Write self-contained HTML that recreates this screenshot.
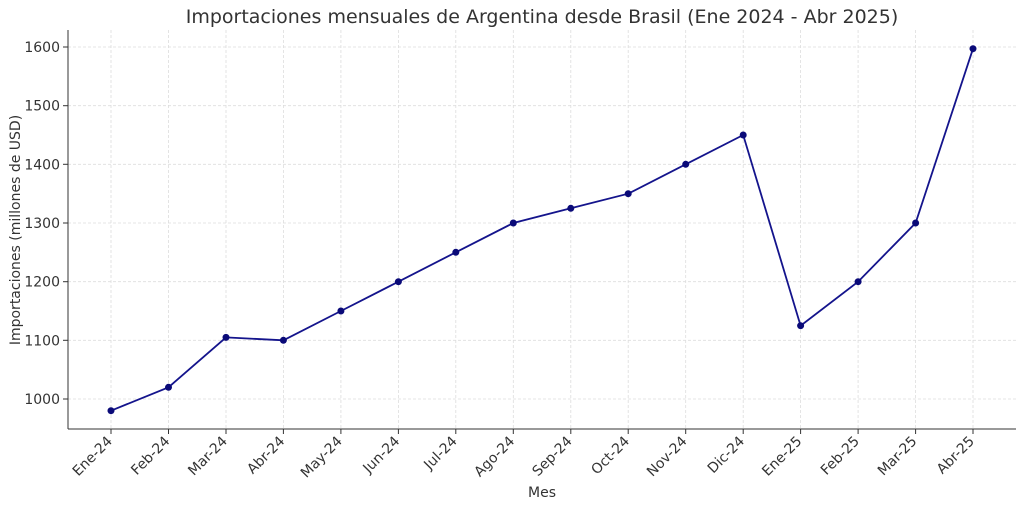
<!DOCTYPE html>
<html><head><meta charset="utf-8"><style>body{margin:0;background:#fff}svg{display:block}text{font-family:"DejaVu Sans","Liberation Sans",sans-serif;fill:#333}</style></head><body>
<svg width="1024" height="508" viewBox="0 0 1024 508" xmlns="http://www.w3.org/2000/svg">
<text x="542" y="23" font-size="19" text-anchor="middle">Importaciones mensuales de Argentina desde Brasil (Ene 2024 - Abr 2025)</text>
<g stroke="#ddd" stroke-width="0.8" stroke-dasharray="3,2">
<line x1="68" x2="1016" y1="47" y2="47"/><line x1="68" x2="1016" y1="105.7" y2="105.7"/><line x1="68" x2="1016" y1="164.3" y2="164.3"/><line x1="68" x2="1016" y1="223" y2="223"/><line x1="68" x2="1016" y1="281.7" y2="281.7"/><line x1="68" x2="1016" y1="340.3" y2="340.3"/><line x1="68" x2="1016" y1="399" y2="399"/>
<line y1="30" y2="429" x1="111" x2="111"/><line y1="30" y2="429" x1="168.5" x2="168.5"/><line y1="30" y2="429" x1="226" x2="226"/><line y1="30" y2="429" x1="283.4" x2="283.4"/><line y1="30" y2="429" x1="340.9" x2="340.9"/><line y1="30" y2="429" x1="398.4" x2="398.4"/><line y1="30" y2="429" x1="455.8" x2="455.8"/><line y1="30" y2="429" x1="513.3" x2="513.3"/><line y1="30" y2="429" x1="570.8" x2="570.8"/><line y1="30" y2="429" x1="628.2" x2="628.2"/><line y1="30" y2="429" x1="685.7" x2="685.7"/><line y1="30" y2="429" x1="743.2" x2="743.2"/><line y1="30" y2="429" x1="800.6" x2="800.6"/><line y1="30" y2="429" x1="858.1" x2="858.1"/><line y1="30" y2="429" x1="915.6" x2="915.6"/><line y1="30" y2="429" x1="973" x2="973"/>
</g>
<g stroke="#333" stroke-width="1"><line x1="68" y1="30" x2="68" y2="429"/><line x1="68" y1="429" x2="1016" y2="429"/>
<line x1="63" x2="68" y1="47" y2="47"/><line x1="63" x2="68" y1="105.7" y2="105.7"/><line x1="63" x2="68" y1="164.3" y2="164.3"/><line x1="63" x2="68" y1="223" y2="223"/><line x1="63" x2="68" y1="281.7" y2="281.7"/><line x1="63" x2="68" y1="340.3" y2="340.3"/><line x1="63" x2="68" y1="399" y2="399"/>
<line y1="429" y2="434" x1="111" x2="111"/><line y1="429" y2="434" x1="168.5" x2="168.5"/><line y1="429" y2="434" x1="226" x2="226"/><line y1="429" y2="434" x1="283.4" x2="283.4"/><line y1="429" y2="434" x1="340.9" x2="340.9"/><line y1="429" y2="434" x1="398.4" x2="398.4"/><line y1="429" y2="434" x1="455.8" x2="455.8"/><line y1="429" y2="434" x1="513.3" x2="513.3"/><line y1="429" y2="434" x1="570.8" x2="570.8"/><line y1="429" y2="434" x1="628.2" x2="628.2"/><line y1="429" y2="434" x1="685.7" x2="685.7"/><line y1="429" y2="434" x1="743.2" x2="743.2"/><line y1="429" y2="434" x1="800.6" x2="800.6"/><line y1="429" y2="434" x1="858.1" x2="858.1"/><line y1="429" y2="434" x1="915.6" x2="915.6"/><line y1="429" y2="434" x1="973" x2="973"/></g>
<g font-size="14" text-anchor="end"><text x="60" y="52">1600</text><text x="60" y="110.7">1500</text><text x="60" y="169.3">1400</text><text x="60" y="228">1300</text><text x="60" y="286.7">1200</text><text x="60" y="345.3">1100</text><text x="60" y="404">1000</text></g>
<g font-size="14" text-anchor="end">
<text transform="translate(113,442) rotate(-45)">Ene-24</text><text transform="translate(170.5,442) rotate(-45)">Feb-24</text><text transform="translate(228,442) rotate(-45)">Mar-24</text><text transform="translate(285.4,442) rotate(-45)">Abr-24</text><text transform="translate(342.9,442) rotate(-45)">May-24</text><text transform="translate(400.4,442) rotate(-45)">Jun-24</text><text transform="translate(457.8,442) rotate(-45)">Jul-24</text><text transform="translate(515.3,442) rotate(-45)">Ago-24</text><text transform="translate(572.8,442) rotate(-45)">Sep-24</text><text transform="translate(630.2,442) rotate(-45)">Oct-24</text><text transform="translate(687.7,442) rotate(-45)">Nov-24</text><text transform="translate(745.2,442) rotate(-45)">Dic-24</text><text transform="translate(802.6,442) rotate(-45)">Ene-25</text><text transform="translate(860.1,442) rotate(-45)">Feb-25</text><text transform="translate(917.6,442) rotate(-45)">Mar-25</text><text transform="translate(975,442) rotate(-45)">Abr-25</text></g>
<text x="542" y="497" font-size="14" text-anchor="middle">Mes</text>
<text transform="translate(20,230) rotate(-90)" font-size="14" text-anchor="middle">Importaciones (millones de USD)</text>
<polyline fill="none" stroke="#14148c" stroke-width="1.8" points="111,410.7 168.5,387.3 226,337.4 283.4,340.3 340.9,311 398.4,281.7 455.8,252.3 513.3,223 570.8,208.3 628.2,193.7 685.7,164.3 743.2,135 800.6,325.7 858.1,281.7 915.6,223 973,48.7"/>
<g fill="#0a0a78"><circle cx="111" cy="410.7" r="3.5"/><circle cx="168.5" cy="387.3" r="3.5"/><circle cx="226" cy="337.4" r="3.5"/><circle cx="283.4" cy="340.3" r="3.5"/><circle cx="340.9" cy="311" r="3.5"/><circle cx="398.4" cy="281.7" r="3.5"/><circle cx="455.8" cy="252.3" r="3.5"/><circle cx="513.3" cy="223" r="3.5"/><circle cx="570.8" cy="208.3" r="3.5"/><circle cx="628.2" cy="193.7" r="3.5"/><circle cx="685.7" cy="164.3" r="3.5"/><circle cx="743.2" cy="135" r="3.5"/><circle cx="800.6" cy="325.7" r="3.5"/><circle cx="858.1" cy="281.7" r="3.5"/><circle cx="915.6" cy="223" r="3.5"/><circle cx="973" cy="48.7" r="3.5"/></g>
</svg></body></html>
